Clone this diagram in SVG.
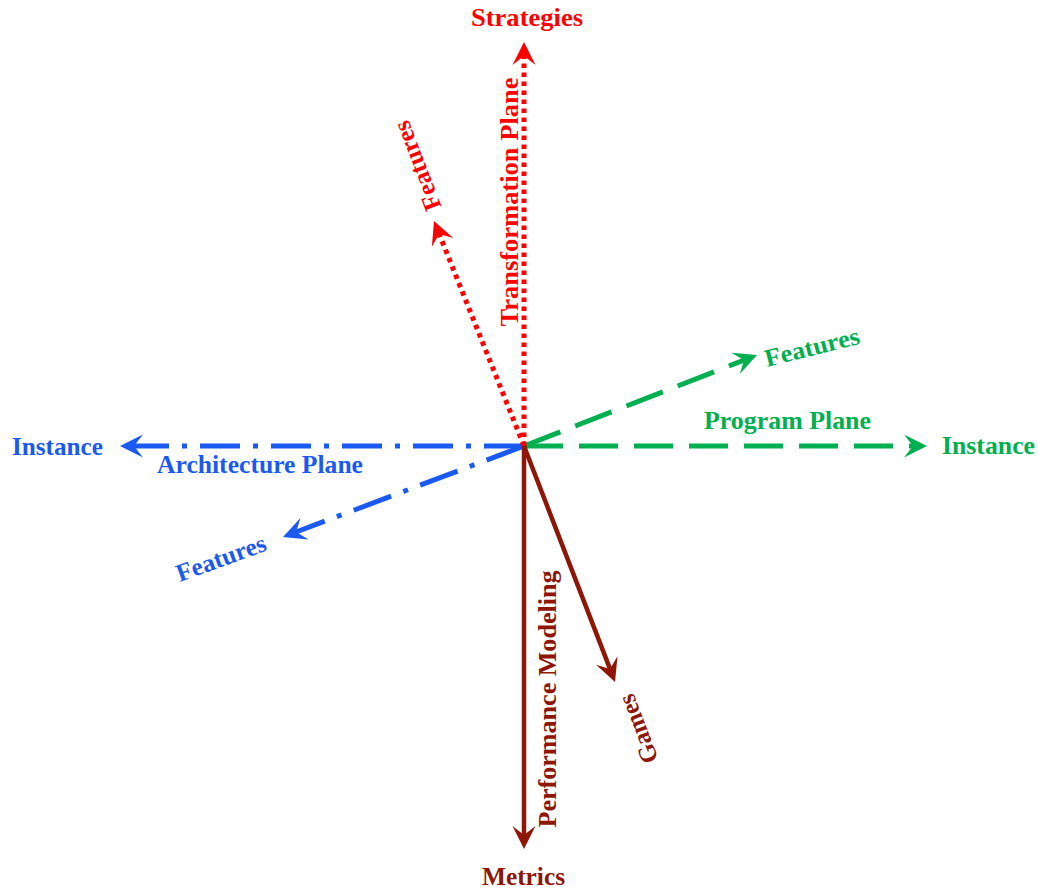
<svg xmlns="http://www.w3.org/2000/svg" width="1038" height="890" viewBox="0 0 1038 890">
<style>
text{font-family:"Liberation Serif","Times New Roman",serif;font-weight:bold;font-size:25px;text-anchor:middle}
.red{fill:#FF0000}.grn{fill:#00B050}.blu{fill:#1A5AF0}.drd{fill:#8E1606}
.l{fill:none;stroke-width:5}
.lr{stroke:#FF0000;stroke-dasharray:4.5 4.5}
.lg{stroke:#00B050;stroke-dasharray:39 16}
.lb{stroke:#1A5AF0;stroke-dasharray:40 13 5 13}
.ld{stroke:#8E1606;stroke-width:4.5}
</style>
<defs>
<marker id="ar" markerUnits="userSpaceOnUse" orient="auto" refX="0" refY="0" markerWidth="30" markerHeight="30" overflow="visible"><path d="M14,0 L-9,-11.5 L0,0 L-9,11.5 Z" fill="#FF0000"/></marker>
<marker id="ag" markerUnits="userSpaceOnUse" orient="auto" refX="0" refY="0" markerWidth="30" markerHeight="30" overflow="visible"><path d="M14,0 L-9,-11.5 L0,0 L-9,11.5 Z" fill="#00B050"/></marker>
<marker id="ab" markerUnits="userSpaceOnUse" orient="auto" refX="0" refY="0" markerWidth="30" markerHeight="30" overflow="visible"><path d="M14,0 L-9,-11.5 L0,0 L-9,11.5 Z" fill="#1A5AF0"/></marker>
<marker id="ad" markerUnits="userSpaceOnUse" orient="auto" refX="0" refY="0" markerWidth="30" markerHeight="30" overflow="visible"><path d="M14,0 L-9,-11.5 L0,0 L-9,11.5 Z" fill="#8E1606"/></marker>
</defs>
<g id="connectors">
<line class="l lb" x1="524" y1="446" x2="134" y2="446" marker-end="url(#ab)"/>
<line class="l lb" x1="524" y1="446" x2="296.1" y2="532" marker-end="url(#ab)"/>
<line class="l lg" x1="524" y1="446" x2="913" y2="446" marker-end="url(#ag)"/>
<line class="l lg" x1="524" y1="446" x2="744" y2="360.1" marker-end="url(#ag)"/>
<line class="l lr" x1="524" y1="446" x2="524" y2="56" marker-end="url(#ar)"/>
<line class="l lr" x1="524" y1="446" x2="439.2" y2="234" marker-end="url(#ar)"/>
<line class="l ld" x1="524" y1="446" x2="524" y2="835" marker-end="url(#ad)"/>
<line class="l ld" x1="524" y1="446" x2="610" y2="668.9" marker-end="url(#ad)"/>
</g>
<g id="strategies"><text class="red" x="527" y="26" textLength="112" lengthAdjust="spacingAndGlyphs">Strategies</text></g>
<g id="transformation-plane"><text class="red" transform="translate(518,202) rotate(-90)" x="0" y="0" textLength="249" lengthAdjust="spacingAndGlyphs">Transformation Plane</text></g>
<g id="features-red"><text class="red" transform="translate(417,166) rotate(-111)" x="0" y="8.5" textLength="94" lengthAdjust="spacingAndGlyphs">Features</text></g>
<g id="features-green"><text class="grn" transform="translate(812,347) rotate(-14)" x="0" y="8.5" textLength="97" lengthAdjust="spacingAndGlyphs">Features</text></g>
<g id="program-plane"><text class="grn" x="787.5" y="429" textLength="167" lengthAdjust="spacingAndGlyphs">Program Plane</text></g>
<g id="instance-green"><text class="grn" x="988.5" y="454" textLength="93" lengthAdjust="spacingAndGlyphs">Instance</text></g>
<g id="instance-blue"><text class="blu" x="57.5" y="455" textLength="91" lengthAdjust="spacingAndGlyphs">Instance</text></g>
<g id="architecture-plane"><text class="blu" x="260" y="473" textLength="206" lengthAdjust="spacingAndGlyphs">Architecture Plane</text></g>
<g id="features-blue"><text class="blu" transform="translate(221,558) rotate(-20)" x="0" y="8.5" textLength="94" lengthAdjust="spacingAndGlyphs">Features</text></g>
<g id="performance-modeling"><text class="drd" transform="translate(556,699) rotate(-90)" x="0" y="0" textLength="257" lengthAdjust="spacingAndGlyphs">Performance Modeling</text></g>
<g id="games"><text class="drd" transform="translate(638,729) rotate(-111)" x="0" y="8.5" textLength="72" lengthAdjust="spacingAndGlyphs">Games</text></g>
<g id="metrics"><text class="drd" x="523.5" y="885" textLength="83" lengthAdjust="spacingAndGlyphs">Metrics</text></g>
</svg>
